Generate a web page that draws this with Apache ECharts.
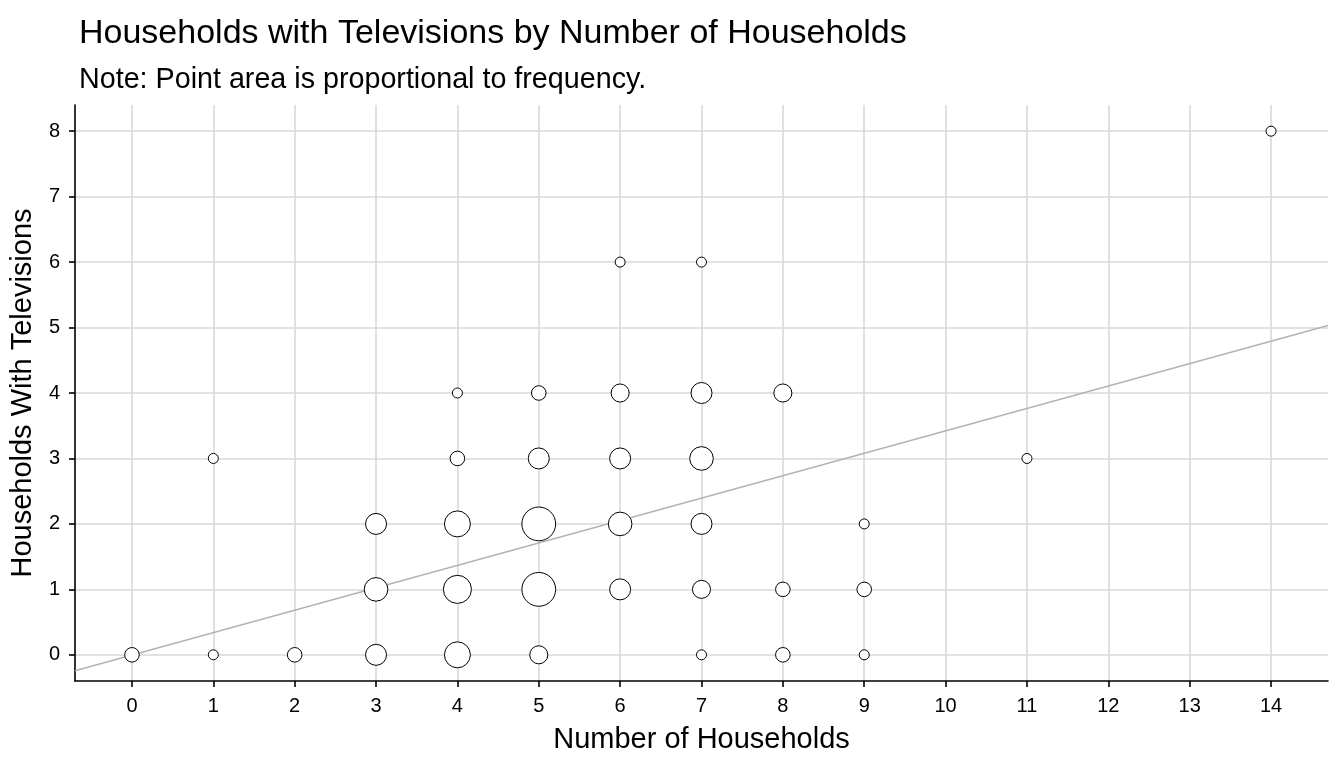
<!DOCTYPE html>
<html>
<head>
<meta charset="utf-8">
<script src="https://cdn.jsdelivr.net/npm/echarts@6/dist/echarts.min.js"></script>
<style>html,body{margin:0;padding:0;background:#fff;}#c{width:1344px;height:768px;}</style>
</head>
<body>
<div id="c"></div>
<script>
// Data: number of households (x), households with televisions (y), frequency (point area)
const households = [0,1,2,3,4,5,7,8,9, 3,4,5,6,7,8,9, 3,4,5,6,7,9, 1,4,5,6,7,11, 4,5,6,7,8, 6,7,14];
const withTV     = [0,0,0,0,0,0,0,0,0, 1,1,1,1,1,1,1, 2,2,2,2,2,2, 3,3,3,3,3,3, 4,4,4,4,4, 6,6,8];
const frequency  = [2,1,2,4,6,3,1,2,1, 5,7,10,4,3,2,2, 4,6,10,5,4,1, 1,2,4,4,5,1, 1,2,3,4,3, 1,1,1];
const xTicks = [0,1,2,3,4,5,6,7,8,9,10,11,12,13,14];
const yTicks = [0,1,2,3,4,5,6,7,8];
const regSlope = 0.3425;
const regIntercept = -0.004;
const xMin = -0.7, xMax = 14.7, yMin = -0.4, yMax = 8.4;

const points = households.map((x, i) => [x, withTV[i], frequency[i]]);
const regLine = [[xMin, regIntercept + regSlope * xMin], [xMax, regIntercept + regSlope * xMax]];

const font = 'Liberation Sans, Arial, sans-serif';
const chart = echarts.init(document.getElementById('c'));
chart.setOption({
  animation: false,
  backgroundColor: '#ffffff',
  title: [
    { text: 'Households with Televisions by Number of Households', left: 74, top: 12,
      textStyle: { fontFamily: font, fontSize: 34, fontWeight: 'normal', color: '#000', lineHeight: 34 } },
    { text: 'Note: Point area is proportional to frequency.', left: 74, top: 61,
      textStyle: { fontFamily: font, fontSize: 28.7, fontWeight: 'normal', color: '#000', lineHeight: 29 } }
  ],
  grid: { left: 75, right: 16, top: 105, bottom: 87 },
  xAxis: {
    type: 'value', min: xMin, max: xMax,
    name: 'Number of Households', nameLocation: 'middle', nameGap: 44,
    nameTextStyle: { fontFamily: font, fontSize: 29, color: '#000', lineHeight: 29 },
    axisLine: { show: true, onZero: false, lineStyle: { color: '#000', width: 1.6 } },
    axisTick: { show: true, length: 6, lineStyle: { color: '#000', width: 1.6 }, customValues: xTicks },
    axisLabel: { customValues: xTicks, margin: 15, fontFamily: font, fontSize: 20, color: '#000' },
    splitLine: { show: true, lineStyle: { color: '#d9d9d9', width: 1.6 } }
  },
  yAxis: {
    type: 'value', min: yMin, max: yMax,
    name: 'Households With Televisions', nameLocation: 'middle', nameGap: 33,
    nameTextStyle: { fontFamily: font, fontSize: 29, color: '#000', lineHeight: 29 },
    axisLine: { show: true, onZero: false, lineStyle: { color: '#000', width: 1.6 } },
    axisTick: { show: true, length: 6, lineStyle: { color: '#000', width: 1.6 }, customValues: yTicks },
    axisLabel: { customValues: yTicks, margin: 15, fontFamily: font, fontSize: 20, color: '#000' },
    splitLine: { show: true, lineStyle: { color: '#d9d9d9', width: 1.6 } }
  },
  series: [
    { type: 'line', data: regLine, symbol: 'none', silent: true, z: 2,
      lineStyle: { color: '#b3b3b3', width: 1.4 } },
    { type: 'scatter', data: points, z: 3,
      symbolSize: (v) => 11 * Math.sqrt(v[2]) - 1,
      itemStyle: { color: '#ffffff', borderColor: '#000000', borderWidth: 1, opacity: 1 } }
  ]
});
</script>
</body>
</html>
